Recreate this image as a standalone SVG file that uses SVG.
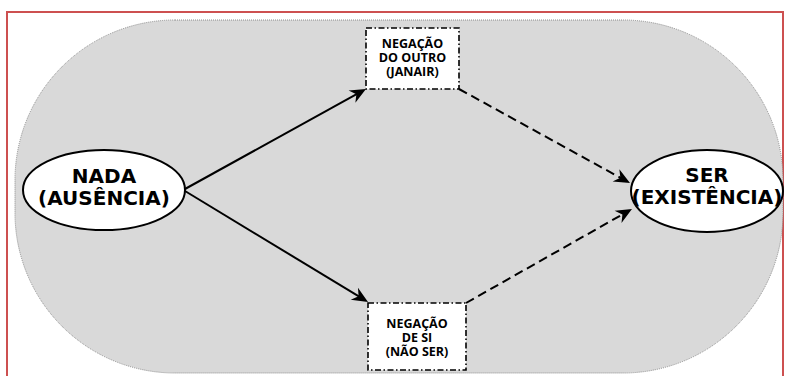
<svg xmlns="http://www.w3.org/2000/svg" width="785" height="376" viewBox="0 0 785 376">
  <defs>
    <style>
      .frame { fill: #ffffff; stroke: #cd5050; stroke-width: 2; }
      .bg { fill: #d9d9d9; stroke: #8a8a8a; stroke-width: 1; stroke-dasharray: 1 1; }
      .ell { fill: #ffffff; stroke: #000000; stroke-width: 2; }
      .box { fill: #ffffff; stroke: #000000; stroke-width: 1.6; stroke-dasharray: 6 2.5 1.5 2.5; }
      .big { font-family: "DejaVu Sans", sans-serif; font-weight: bold; font-size: 20px; text-anchor: middle; fill: #000; }
      .small { font-family: "Open Sans", "DejaVu Sans", sans-serif; font-weight: bold; font-size: 12.5px; text-anchor: middle; fill: #000; }
      .solid { fill: none; stroke: #000; stroke-width: 2; marker-end: url(#arrow); }
      .dashed { fill: none; stroke: #000; stroke-width: 2; stroke-dasharray: 9 5; marker-end: url(#arrow); }
    </style>
    <marker id="arrow" viewBox="-17 -8 19 16" refX="-4" refY="0" markerWidth="19" markerHeight="16" markerUnits="userSpaceOnUse" orient="auto">
      <path d="M0,0 L-16,-7 L-11,0 L-16,7 Z" fill="#000"/>
    </marker>
  </defs>

  <rect class="frame" x="7" y="12" width="776" height="400"/>
  <rect class="bg" x="15" y="20" width="768" height="353" rx="160" ry="160"/>

  <g id="connectors">
    <line class="solid" x1="185" y1="189" x2="362.5" y2="90.9"/>
    <line class="solid" x1="185" y1="191" x2="364.6" y2="299.9"/>
    <line class="dashed" x1="459" y1="89" x2="626.5" y2="181.1"/>
    <line class="dashed" x1="466" y1="303" x2="628.5" y2="211"/>
  </g>

  <g id="nada">
    <ellipse class="ell" cx="104" cy="190" rx="81" ry="40"/>
    <text class="big" x="104" y="183">NADA</text>
    <text class="big" x="104" y="205">(AUSÊNCIA)</text>
  </g>

  <g id="ser">
    <ellipse class="ell" cx="707" cy="191" rx="76" ry="41"/>
    <text class="big" x="707" y="182">SER</text>
    <text class="big" x="707" y="204">(EXISTÊNCIA)</text>
  </g>

  <g id="negacao-outro">
    <rect class="box" x="366" y="28" width="93" height="61"/>
    <text class="small" x="412.5" y="48">NEGAÇÃO</text>
    <text class="small" x="412.5" y="62">DO OUTRO</text>
    <text class="small" x="412.5" y="76">(JANAIR)</text>
  </g>

  <g id="negacao-si">
    <rect class="box" x="368" y="303" width="98" height="67"/>
    <text class="small" x="417" y="328">NEGAÇÃO</text>
    <text class="small" x="417" y="342">DE SI</text>
    <text class="small" x="417" y="356">(NÃO SER)</text>
  </g>
</svg>
